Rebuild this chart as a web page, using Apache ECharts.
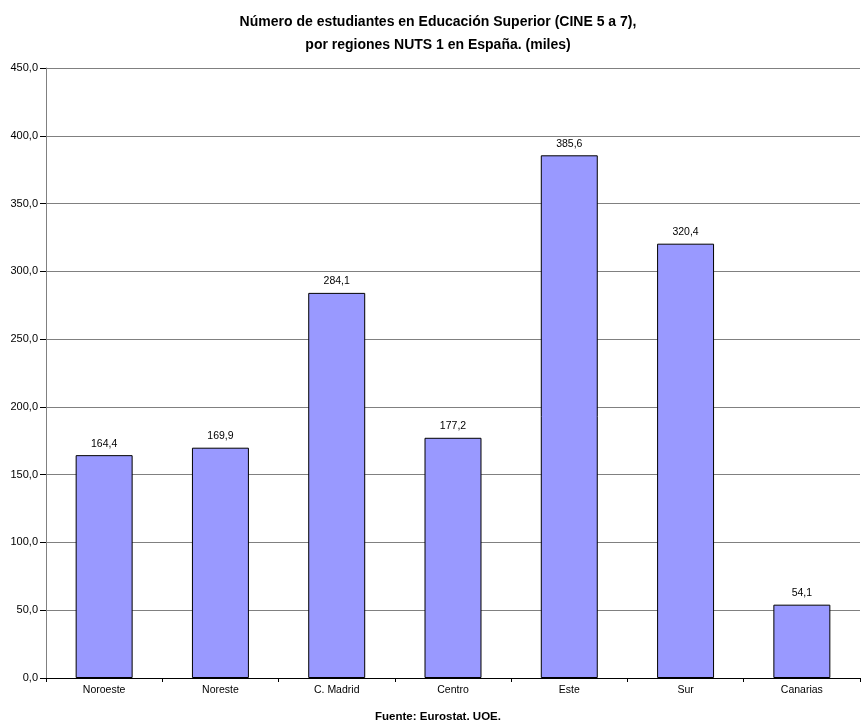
<!DOCTYPE html>
<html>
<head>
<meta charset="utf-8">
<script src="https://cdn.jsdelivr.net/npm/echarts@6/dist/echarts.min.js"></script>
<style>
  html, body { margin: 0; padding: 0; background: #fff; }
  #chart { width: 867px; height: 720px; }
</style>
</head>
<body>
<div id="chart"></div>
<script>
// Regions (NUTS 1) and number of students, in thousands
const regiones = ['Noroeste', 'Noreste', 'C. Madrid', 'Centro', 'Este', 'Sur', 'Canarias'];
const estudiantes = [164.4, 169.9, 284.1, 177.2, 385.6, 320.4, 54.1];

const fmt = v => v.toFixed(1).replace('.', ',');
const font = 'Liberation Sans, Arial, sans-serif';

const chart = echarts.init(document.getElementById('chart'), null, { renderer: 'canvas' });
chart.setOption({
  animation: false,
  title: [
    {
      text: 'Número de estudiantes en Educación Superior (CINE 5 a 7),\npor regiones NUTS 1 en España. (miles)',
      left: 433, top: 6, textAlign: 'center',
      textStyle: { fontFamily: font, fontSize: 14, fontWeight: 'bold', color: '#000', lineHeight: 23 }
    },
    {
      text: 'Fuente: Eurostat, UOE.',
      left: 433, top: 706, textAlign: 'center',
      textStyle: { fontFamily: font, fontSize: 11.5, fontWeight: 'bold', color: '#000' }
    }
  ],
  grid: { left: 46, right: 7, top: 68, bottom: 42, containLabel: false },
  xAxis: {
    type: 'category',
    data: regiones,
    axisLine: { lineStyle: { color: '#000', width: 1 } },
    axisTick: { show: true, length: 4, lineStyle: { color: '#000' } },
    axisLabel: { fontFamily: font, fontSize: 10.5, color: '#000', margin: 7 }
  },
  yAxis: {
    type: 'value',
    min: 0, max: 450, interval: 50,
    axisLine: { show: true, lineStyle: { color: '#808080', width: 1 } },
    axisTick: { show: true, length: 6, inside: false, lineStyle: { color: '#000' } },
    axisLabel: { fontFamily: font, fontSize: 11, color: '#000', margin: 8, formatter: v => fmt(v) },
    splitLine: { show: true, lineStyle: { color: '#808080', width: 1 } }
  },
  series: [{
    type: 'bar',
    data: estudiantes,
    barWidth: '49%',
    itemStyle: { color: '#9999FF', borderColor: '#000', borderWidth: 1 },
    label: {
      show: true, position: 'top', distance: 6,
      fontFamily: font, fontSize: 10.5, color: '#000',
      formatter: p => fmt(p.value)
    }
  }]
});
</script>
</body>
</html>
